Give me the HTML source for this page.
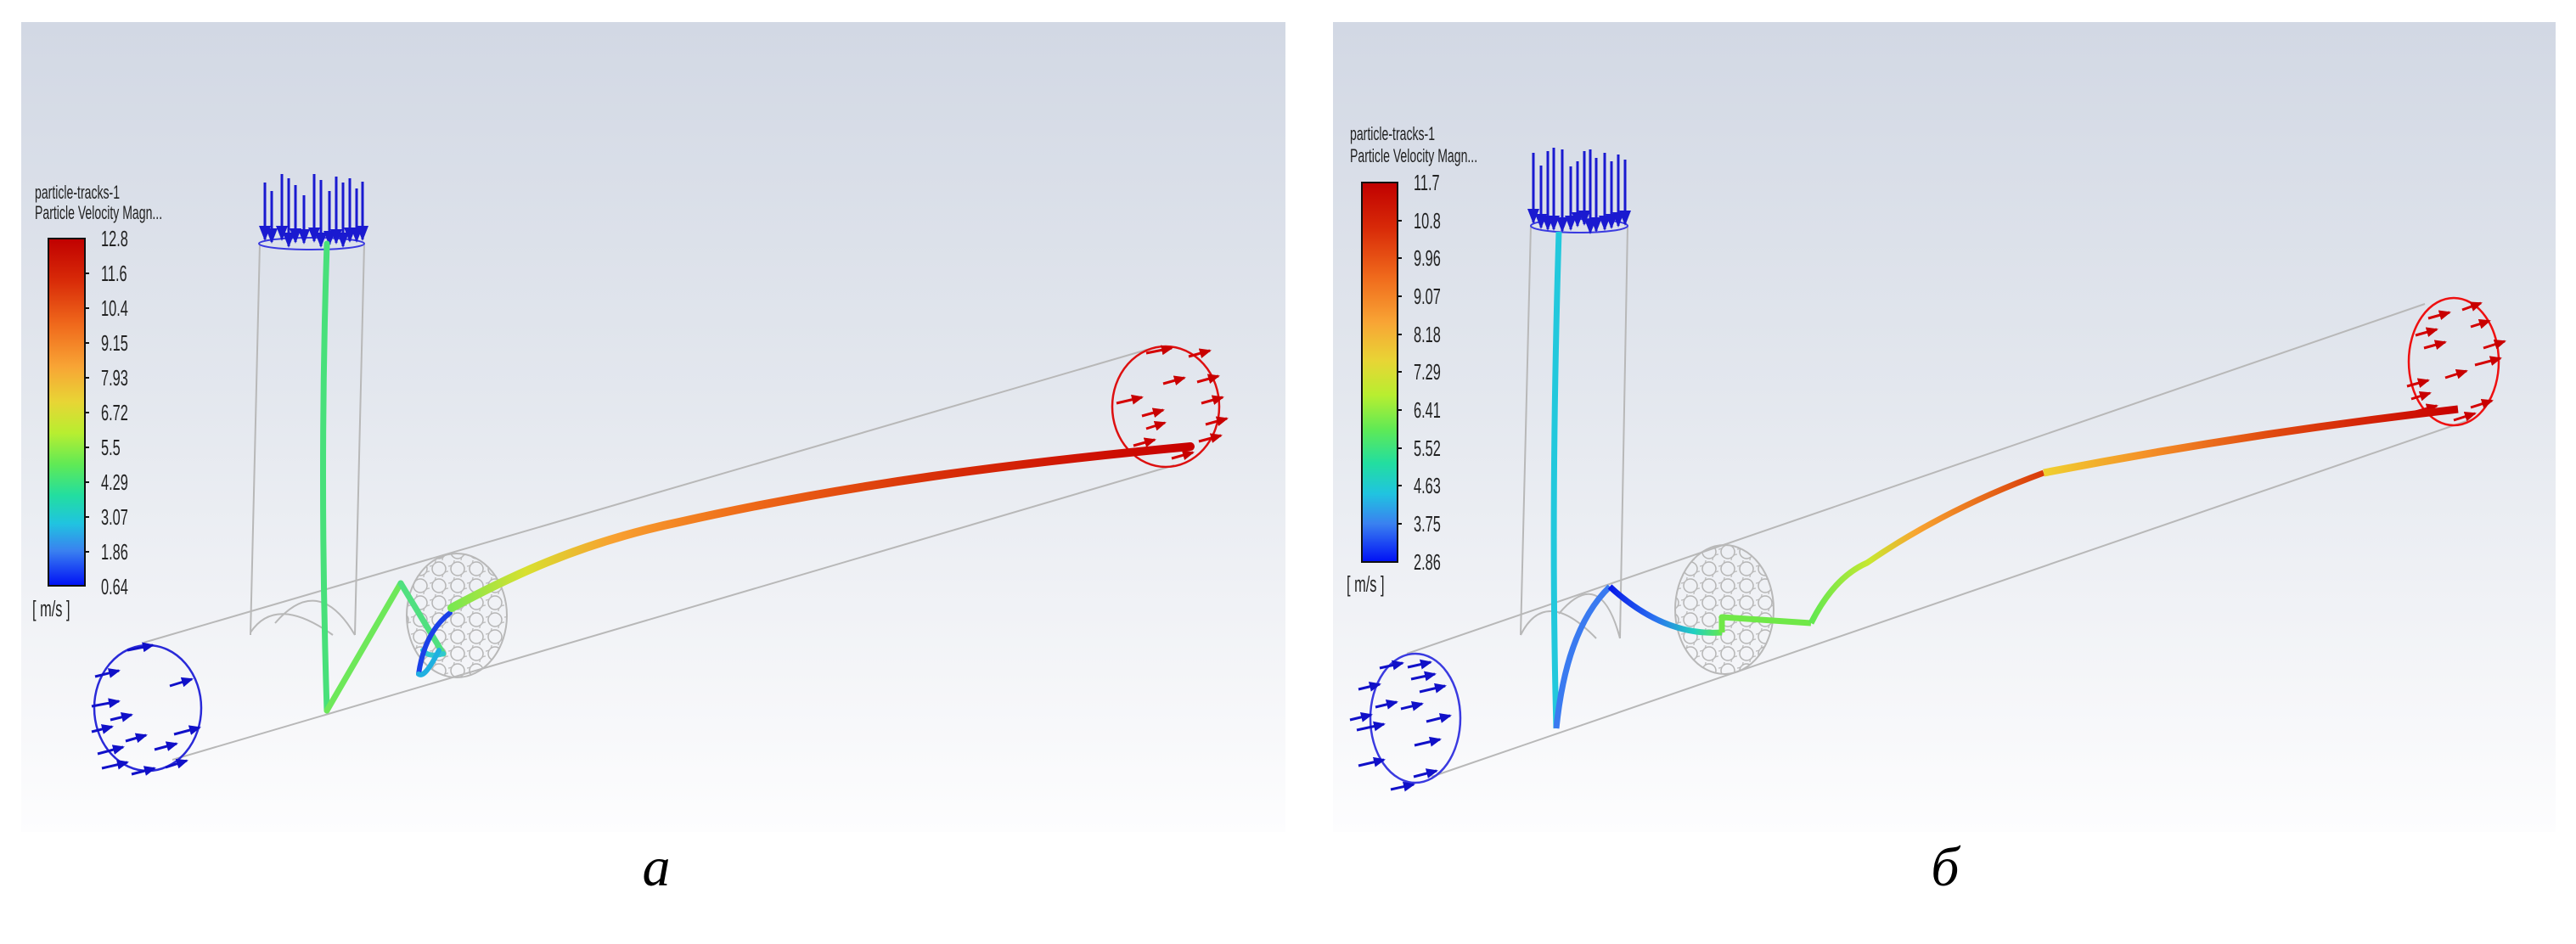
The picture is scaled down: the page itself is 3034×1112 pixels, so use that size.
<!DOCTYPE html>
<html><head><meta charset="utf-8"><style>
html,body{margin:0;padding:0;background:#fff;}
svg{display:block;}
</style></head><body>
<svg width="3034" height="1112" viewBox="0 0 3034 1112" xmlns="http://www.w3.org/2000/svg">
<defs>
<linearGradient id="bg" x1="0" y1="0" x2="0" y2="1">
<stop offset="0" stop-color="#d2d8e4"/><stop offset="0.45" stop-color="#e3e7ee"/><stop offset="0.8" stop-color="#f4f5f8"/><stop offset="1" stop-color="#fdfdfe"/>
</linearGradient>
<linearGradient id="jet" x1="0" y1="0" x2="0" y2="1">
<stop offset="0" stop-color="#c00000"/><stop offset="0.12" stop-color="#d82a08"/><stop offset="0.25" stop-color="#f06a1c"/><stop offset="0.37" stop-color="#f8a535"/><stop offset="0.47" stop-color="#e8d535"/><stop offset="0.56" stop-color="#b8ee30"/><stop offset="0.65" stop-color="#60ea55"/><stop offset="0.74" stop-color="#22dea0"/><stop offset="0.82" stop-color="#20c4e0"/><stop offset="0.9" stop-color="#3a80f0"/><stop offset="1" stop-color="#0010f5"/>
</linearGradient>
<linearGradient id="ta" gradientUnits="userSpaceOnUse" x1="532" y1="0" x2="1402" y2="0">
<stop offset="0" stop-color="#7ae850"/><stop offset="0.1" stop-color="#d8e030"/><stop offset="0.22" stop-color="#f8a030"/><stop offset="0.4" stop-color="#ee6a18"/><stop offset="0.65" stop-color="#d83008"/><stop offset="1" stop-color="#c80000"/>
</linearGradient>
<linearGradient id="tb1" gradientUnits="userSpaceOnUse" x1="2133" y1="0" x2="2407" y2="0">
<stop offset="0" stop-color="#60e850"/><stop offset="0.25" stop-color="#c8e830"/><stop offset="0.45" stop-color="#f8a530"/><stop offset="1" stop-color="#d83808"/>
</linearGradient>
<linearGradient id="tb2" gradientUnits="userSpaceOnUse" x1="2407" y1="0" x2="2895" y2="0">
<stop offset="0" stop-color="#f0d030"/><stop offset="0.25" stop-color="#f49028"/><stop offset="0.55" stop-color="#e04a10"/><stop offset="1" stop-color="#c80000"/>
</linearGradient>
<linearGradient id="tb3" gradientUnits="userSpaceOnUse" x1="1896" y1="0" x2="2028" y2="0">
<stop offset="0" stop-color="#0818e8"/><stop offset="0.4" stop-color="#2a70f0"/><stop offset="0.75" stop-color="#20d0c0"/><stop offset="1" stop-color="#60e850"/>
</linearGradient>
<pattern id="mesh" width="22" height="20" patternUnits="userSpaceOnUse">
<circle cx="11" cy="10" r="8" fill="none" stroke="#b5b5b5" stroke-width="1.5"/>
<circle cx="0" cy="0" r="7" fill="none" stroke="#bcbcbc" stroke-width="1.3"/>
<circle cx="22" cy="20" r="7" fill="none" stroke="#bcbcbc" stroke-width="1.3"/>
</pattern>
<marker id="ab" markerWidth="14" markerHeight="12" refX="12" refY="6" orient="auto" markerUnits="userSpaceOnUse"><path d="M0,0 L14,6 L0,12 z" fill="#1010c8"/></marker>
<marker id="ar" markerWidth="14" markerHeight="12" refX="12" refY="6" orient="auto" markerUnits="userSpaceOnUse"><path d="M0,0 L14,6 L0,12 z" fill="#c80000"/></marker>
<marker id="ad" markerWidth="18" markerHeight="14" refX="16" refY="7" orient="auto" markerUnits="userSpaceOnUse"><path d="M0,0 L18,7 L0,14 z" fill="#1a1ad0"/></marker>
</defs>

<rect x="25" y="26" width="1489" height="954" fill="url(#bg)"/>
<rect x="1570" y="26" width="1440" height="954" fill="url(#bg)"/>

<!-- ================= PANEL A ================= -->
<g font-family="Liberation Sans, sans-serif" fill="#222">
<g transform="translate(41,234) scale(0.64,1)"><text font-size="22">particle-tracks-1</text></g>
<g transform="translate(41,258) scale(0.64,1)"><text font-size="22">Particle Velocity Magn...</text></g>
</g>
<rect x="57" y="281" width="43" height="409" fill="url(#jet)" stroke="#111" stroke-width="2"/>
<g stroke="#111" stroke-width="2">
<line x1="100" y1="322" x2="105" y2="322"/><line x1="100" y1="363" x2="105" y2="363"/><line x1="100" y1="404" x2="105" y2="404"/><line x1="100" y1="445" x2="105" y2="445"/><line x1="100" y1="486" x2="105" y2="486"/><line x1="100" y1="527" x2="105" y2="527"/><line x1="100" y1="568" x2="105" y2="568"/><line x1="100" y1="609" x2="105" y2="609"/><line x1="100" y1="650" x2="105" y2="650"/>
</g>
<g font-family="Liberation Sans, sans-serif" fill="#222" font-size="26">
<g transform="translate(119,290) scale(0.63,1)"><text>12.8</text></g>
<g transform="translate(119,331) scale(0.63,1)"><text>11.6</text></g>
<g transform="translate(119,372) scale(0.63,1)"><text>10.4</text></g>
<g transform="translate(119,413) scale(0.63,1)"><text>9.15</text></g>
<g transform="translate(119,454) scale(0.63,1)"><text>7.93</text></g>
<g transform="translate(119,495) scale(0.63,1)"><text>6.72</text></g>
<g transform="translate(119,536) scale(0.63,1)"><text>5.5</text></g>
<g transform="translate(119,577) scale(0.63,1)"><text>4.29</text></g>
<g transform="translate(119,618) scale(0.63,1)"><text>3.07</text></g>
<g transform="translate(119,659) scale(0.63,1)"><text>1.86</text></g>
<g transform="translate(119,700) scale(0.63,1)"><text>0.64</text></g>
<g transform="translate(38,726) scale(0.63,1)"><text>[ m/s ]</text></g>
</g>

<g fill="none" stroke="#b8b8b8" stroke-width="2">
<line x1="306" y1="287" x2="295" y2="748"/>
<line x1="429" y1="287" x2="418" y2="748"/>
<line x1="169" y1="757" x2="1354" y2="411"/>
<line x1="203" y1="895" x2="1383" y2="548"/>
<path d="M295,745 Q325,700 392,748"/>
<path d="M324,734 Q375,675 418,748"/>
</g>
<ellipse cx="538" cy="725" rx="59" ry="73" fill="url(#mesh)" stroke="#b8b8b8" stroke-width="2"/>
<ellipse cx="367" cy="287" rx="62" ry="7" fill="none" stroke="#3a3ae0" stroke-width="2"/>
<g stroke="#1a1ad0" stroke-width="3" marker-end="url(#ad)">
<line x1="312" y1="215" x2="312" y2="282"/><line x1="320" y1="225" x2="320" y2="285"/><line x1="332" y1="205" x2="332" y2="282"/><line x1="340" y1="210" x2="340" y2="290"/><line x1="348" y1="218" x2="348" y2="285"/><line x1="358" y1="230" x2="358" y2="286"/><line x1="370" y1="205" x2="370" y2="284"/><line x1="378" y1="212" x2="378" y2="290"/><line x1="388" y1="225" x2="388" y2="288"/><line x1="396" y1="208" x2="396" y2="286"/><line x1="404" y1="215" x2="404" y2="290"/><line x1="412" y1="210" x2="412" y2="284"/><line x1="420" y1="222" x2="420" y2="284"/><line x1="427" y1="214" x2="427" y2="282"/>
</g>
<ellipse cx="174" cy="834" rx="63" ry="74" fill="none" stroke="#2a2ad8" stroke-width="2.5"/>
<g stroke="#1010c8" stroke-width="3" marker-end="url(#ab)">
<line x1="150" y1="766" x2="180" y2="760"/><line x1="112" y1="797" x2="140" y2="790"/><line x1="200" y1="808" x2="226" y2="800"/><line x1="108" y1="832" x2="140" y2="826"/><line x1="130" y1="848" x2="155" y2="842"/><line x1="148" y1="873" x2="172" y2="866"/><line x1="108" y1="862" x2="132" y2="856"/><line x1="115" y1="888" x2="145" y2="880"/><line x1="182" y1="883" x2="208" y2="876"/><line x1="205" y1="865" x2="235" y2="857"/><line x1="155" y1="912" x2="182" y2="905"/><line x1="120" y1="905" x2="150" y2="898"/><line x1="195" y1="904" x2="220" y2="896"/>
</g>
<ellipse cx="1373" cy="479" rx="63" ry="71" fill="none" stroke="#dd1010" stroke-width="2.5"/>
<g stroke="#d40000" stroke-width="3" marker-end="url(#ar)">
<line x1="1350" y1="416" x2="1380" y2="410"/><line x1="1400" y1="420" x2="1425" y2="413"/><line x1="1370" y1="452" x2="1395" y2="445"/><line x1="1410" y1="450" x2="1435" y2="443"/><line x1="1315" y1="475" x2="1345" y2="468"/><line x1="1345" y1="490" x2="1370" y2="483"/><line x1="1415" y1="475" x2="1440" y2="468"/><line x1="1350" y1="505" x2="1372" y2="498"/><line x1="1420" y1="500" x2="1445" y2="493"/><line x1="1335" y1="525" x2="1360" y2="518"/><line x1="1412" y1="520" x2="1438" y2="513"/><line x1="1380" y1="540" x2="1405" y2="533"/>
</g>
<g fill="none" stroke-linecap="round" stroke-linejoin="round">
<path d="M385,287 Q376,560 385,837" stroke="#48e07a" stroke-width="7"/>
<path d="M385,837 L472,687" stroke="#6ee85a" stroke-width="7"/>
<path d="M472,687 L522,770" stroke="#50e080" stroke-width="7"/>
<path d="M522,770 Q505,775 498,766" stroke="#30c8d0" stroke-width="6"/>
<path d="M530,722 Q500,745 493,794" stroke="#1a40e8" stroke-width="6"/>
<path d="M493,794 Q500,800 517,766" stroke="#20b0e0" stroke-width="6"/>
<path d="M532,716 C600,680 680,640 800,615 C1000,570 1200,545 1402,526" stroke="url(#ta)" stroke-width="10"/>
</g>
<text x="773" y="1043" font-family="Liberation Serif, serif" font-style="italic" font-size="66" text-anchor="middle" fill="#000">а</text>

<!-- ================= PANEL B ================= -->
<g font-family="Liberation Sans, sans-serif" fill="#222">
<g transform="translate(1590,165) scale(0.64,1)"><text font-size="22">particle-tracks-1</text></g>
<g transform="translate(1590,191) scale(0.64,1)"><text font-size="22">Particle Velocity Magn...</text></g>
</g>
<rect x="1604" y="215" width="42" height="447" fill="url(#jet)" stroke="#111" stroke-width="2"/>
<g stroke="#111" stroke-width="2">
<line x1="1646" y1="260" x2="1651" y2="260"/><line x1="1646" y1="304" x2="1651" y2="304"/><line x1="1646" y1="349" x2="1651" y2="349"/><line x1="1646" y1="394" x2="1651" y2="394"/><line x1="1646" y1="438" x2="1651" y2="438"/><line x1="1646" y1="483" x2="1651" y2="483"/><line x1="1646" y1="528" x2="1651" y2="528"/><line x1="1646" y1="572" x2="1651" y2="572"/><line x1="1646" y1="617" x2="1651" y2="617"/>
</g>
<g font-family="Liberation Sans, sans-serif" fill="#222" font-size="26">
<g transform="translate(1665,224) scale(0.63,1)"><text>11.7</text></g>
<g transform="translate(1665,269) scale(0.63,1)"><text>10.8</text></g>
<g transform="translate(1665,313) scale(0.63,1)"><text>9.96</text></g>
<g transform="translate(1665,358) scale(0.63,1)"><text>9.07</text></g>
<g transform="translate(1665,403) scale(0.63,1)"><text>8.18</text></g>
<g transform="translate(1665,447) scale(0.63,1)"><text>7.29</text></g>
<g transform="translate(1665,492) scale(0.63,1)"><text>6.41</text></g>
<g transform="translate(1665,537) scale(0.63,1)"><text>5.52</text></g>
<g transform="translate(1665,581) scale(0.63,1)"><text>4.63</text></g>
<g transform="translate(1665,626) scale(0.63,1)"><text>3.75</text></g>
<g transform="translate(1665,671) scale(0.63,1)"><text>2.86</text></g>
<g transform="translate(1586,697) scale(0.63,1)"><text>[ m/s ]</text></g>
</g>

<g fill="none" stroke="#b8b8b8" stroke-width="2">
<line x1="1803" y1="266" x2="1791" y2="748"/>
<line x1="1917" y1="266" x2="1908" y2="752"/>
<line x1="1657" y1="770" x2="2856" y2="358"/>
<line x1="1686" y1="915" x2="2905" y2="496"/>
<path d="M1791,748 Q1820,690 1880,752"/>
<path d="M1836,723 Q1885,665 1908,752"/>
</g>
<ellipse cx="2031" cy="718" rx="58" ry="76" fill="url(#mesh)" stroke="#b8b8b8" stroke-width="2"/>
<ellipse cx="1860" cy="266" rx="57" ry="8" fill="none" stroke="#3a3ae0" stroke-width="2"/>
<g stroke="#1a1ad0" stroke-width="3" marker-end="url(#ad)">
<line x1="1806" y1="180" x2="1806" y2="262"/><line x1="1815" y1="195" x2="1815" y2="268"/><line x1="1823" y1="178" x2="1823" y2="270"/><line x1="1830" y1="174" x2="1830" y2="270"/><line x1="1840" y1="176" x2="1840" y2="272"/><line x1="1850" y1="196" x2="1850" y2="270"/><line x1="1858" y1="190" x2="1858" y2="266"/><line x1="1866" y1="178" x2="1866" y2="264"/><line x1="1873" y1="176" x2="1873" y2="274"/><line x1="1880" y1="186" x2="1880" y2="272"/><line x1="1890" y1="180" x2="1890" y2="270"/><line x1="1898" y1="190" x2="1898" y2="268"/><line x1="1906" y1="182" x2="1906" y2="266"/><line x1="1914" y1="188" x2="1914" y2="264"/>
</g>
<ellipse cx="1667" cy="846" rx="53" ry="76" fill="none" stroke="#3a3ae0" stroke-width="2.5"/>
<g stroke="#1010c8" stroke-width="3" marker-end="url(#ab)">
<line x1="1625" y1="787" x2="1652" y2="781"/><line x1="1658" y1="786" x2="1685" y2="780"/><line x1="1662" y1="800" x2="1690" y2="794"/><line x1="1600" y1="812" x2="1625" y2="806"/><line x1="1672" y1="815" x2="1702" y2="808"/><line x1="1620" y1="833" x2="1645" y2="827"/><line x1="1650" y1="835" x2="1675" y2="829"/><line x1="1590" y1="848" x2="1615" y2="842"/><line x1="1598" y1="860" x2="1630" y2="853"/><line x1="1680" y1="850" x2="1708" y2="843"/><line x1="1666" y1="878" x2="1696" y2="871"/><line x1="1600" y1="902" x2="1630" y2="895"/><line x1="1638" y1="930" x2="1665" y2="924"/><line x1="1665" y1="915" x2="1692" y2="908"/>
</g>
<ellipse cx="2890" cy="426" rx="53" ry="75" fill="none" stroke="#ee1010" stroke-width="2.5"/>
<g stroke="#d40000" stroke-width="3" marker-end="url(#ar)">
<line x1="2860" y1="375" x2="2885" y2="368"/><line x1="2900" y1="365" x2="2922" y2="357"/><line x1="2910" y1="385" x2="2932" y2="378"/><line x1="2845" y1="395" x2="2870" y2="388"/><line x1="2855" y1="410" x2="2880" y2="403"/><line x1="2925" y1="410" x2="2950" y2="402"/><line x1="2915" y1="430" x2="2945" y2="422"/><line x1="2880" y1="445" x2="2905" y2="437"/><line x1="2835" y1="455" x2="2860" y2="448"/><line x1="2840" y1="470" x2="2862" y2="463"/><line x1="2845" y1="485" x2="2870" y2="478"/><line x1="2910" y1="480" x2="2935" y2="472"/><line x1="2890" y1="495" x2="2915" y2="487"/>
</g>
<g fill="none" stroke-linejoin="round">
<path d="M1836,273 Q1826,600 1833,858" stroke="#22c8dc" stroke-width="7"/>
<path d="M1833,858 Q1845,740 1896,691" stroke="#3a7af0" stroke-width="7"/>
<path d="M1896,691 Q1960,750 2028,745" stroke="url(#tb3)" stroke-width="7"/>
<path d="M2028,745 L2028,727 L2133,734" stroke="#70e848" stroke-width="7"/>
<path d="M2133,734 Q2160,680 2199,663 Q2290,600 2407,557" stroke="url(#tb1)" stroke-width="7"/>
<path d="M2407,557 Q2650,510 2895,482" stroke="url(#tb2)" stroke-width="9"/>
</g>
<text x="2291" y="1043" font-family="Liberation Serif, serif" font-style="italic" font-size="66" text-anchor="middle" fill="#000">б</text>
</svg>
</body></html>
